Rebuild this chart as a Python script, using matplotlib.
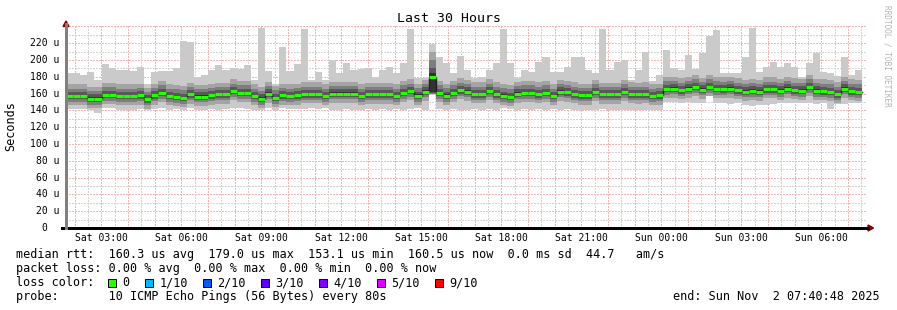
import matplotlib
matplotlib.use('Agg')
import matplotlib.pyplot as plt
import matplotlib.dates as mdates
from matplotlib.lines import Line2D
from matplotlib.patches import Rectangle, Polygon
from datetime import datetime, timedelta
import pandas as pd

W, H = 897, 310
plt.rcParams['font.family'] = ['DejaVu Sans Mono']

# time span of the graph (30 hours, 16 minute consolidated bars)
start = datetime(2025, 11, 1, 1, 40, 48)
end = datetime(2025, 11, 2, 7, 40, 48)
bar_minutes = 16

# median rtt per bar (us)
median = [157, 157, 157, 154, 154, 158.5, 158.5, 157, 157, 157,
          158, 153, 158, 161, 157, 156, 155, 159, 156.5, 156.5,
          158, 159, 159, 163, 161, 161, 157, 154, 160, 155,
          158, 157, 158,
          159.3, 159.3, 159.3, 157, 160, 160, 160, 160, 157, 159,
          159, 159, 159, 157, 161, 163, 157.5, 162.5, 179.5, 161,
          157.5, 161, 164, 162.5, 159.3, 159.3, 163, 159.3, 157.5, 156,
          160, 161, 161, 159.3, 161, 157, 162.5, 161.5, 159.3,
          158, 158, 162, 159, 159, 159, 162, 159.3, 159, 159.3,
          157, 158, 165.7, 166, 164, 166, 168, 164.8, 168, 165.7,
          165.3, 166, 164, 162.4, 163.5, 162.4, 165.3, 165.3, 163.5, 166,
          164, 163.5, 168, 163.5, 162.8, 162, 159.3, 166, 162.8, 162]

# slowest ping per bar (top of the light smoke)
ping_max = [184.7, 184, 182, 186, 176, 195, 190, 188, 188, 187,
            192, 171, 186, 187, 187, 190.6, 222.7, 221, 180, 182,
            188, 194, 188, 190, 189, 194, 176, 238, 187, 172,
            215.6, 187, 195,
            237, 176, 186, 176, 200, 184, 196, 188, 189, 190,
            180, 188, 192, 184, 197, 237, 178, 178, 219, 203,
            197, 184, 204.5, 188, 178, 180, 188, 197, 237, 196,
            178, 188, 186, 198, 204, 186, 186, 192, 204,
            204, 188, 185, 237, 188, 198, 200, 176, 188, 210,
            175, 182, 212, 190, 188, 206, 189, 208, 229, 236,
            184, 184, 185, 204, 238, 186, 192, 198, 192, 196.5,
            192, 180, 196, 208, 186, 184, 181, 204, 182, 188]

# fastest ping per bar (bottom of the light smoke)
ping_min = [142, 142, 142, 141, 137, 143, 143, 141, 141, 141,
            142, 141, 142, 143, 141, 142, 141, 143, 141, 141,
            142, 141, 142, 143, 143, 142, 141, 140, 143, 141,
            143, 142, 142,
            142, 143, 142, 143, 140, 141, 142, 141, 141, 142,
            141, 142, 141, 142, 141, 142, 143, 141, 158, 142,
            141, 142, 141, 141, 142, 141, 142, 141, 143, 142,
            141, 142, 141, 142, 141, 142, 141, 142, 141,
            141, 141, 141, 142, 141, 141, 140, 140, 141, 141,
            141, 141, 150, 150, 149, 150, 149, 149, 157, 149,
            149, 148, 149, 146, 145, 146, 147, 148, 149, 149,
            149, 149, 149, 148, 149, 142, 148, 148, 149, 149]

# typical inner ping offsets from the median (p5..p2 below, p6..p9 above)
below_median = [1.5, 4, 7, 11]
above_median = [1.5, 5, 9, 14]
# the spike bar at Sat 15:00 has its own sorted pings
spike_bar = 51
spike_pings = [158, 159, 160, 161, 162, 184, 190, 200, 209, 219]

x_labels_fmt = '%a %H:%M'
loss_labels = ['0', '1/10', '2/10', '3/10', '4/10', '5/10', '9/10']
loss_colors = ['#26ff00', '#00b8ff', '#0059ff', '#5e00ff', '#7e00ff', '#dd00ff', '#ff0000']


def px(x, y):
    #pixel position -> figure fraction
    return x / W, 1 - y / H


def sorted_pings(k):
    if k == spike_bar:
        return spike_pings
    m, lo, hi = median[k], ping_min[k], ping_max[k]
    inner = [m - d for d in below_median[::-1]] + [m + d for d in above_median]
    inner = [min(max(v, lo), hi) for v in inner]
    return sorted([lo] + inner + [hi])


fig = plt.figure(figsize=(W / 100, H / 100), dpi=100)
fig.patch.set_facecolor('white')
ax_left, ax_right, ax_bottom, ax_top = 66, 866, 228, 26.4
ax = fig.add_axes([ax_left / W, 1 - ax_bottom / H, (ax_right - ax_left) / W, (ax_bottom - ax_top) / H])
ax.set_facecolor('white')
ax.set_xlim(start, end)
ax.set_ylim(0, 240)
for s in ax.spines.values():
    s.set_visible(False)

times = [start + timedelta(minutes=bar_minutes * k) for k in range(len(median))]
width = timedelta(minutes=bar_minutes)
pings = [sorted_pings(k) for k in range(len(median))]

#Grid (drawn under the smoke, like rrdtool)
grid_style = dict(linestyle=(0, (1, 1)), lw=0.75, antialiased=False, zorder=0.5)
for v in range(10, 241, 10):
    if v % 20:
        ax.axhline(v, color='#d4d4d4', **grid_style)
    else:
        ax.axhline(v, color='#f6b4b4', **grid_style)
for t in pd.date_range('2025-11-01 02:30', '2025-11-02 07:30', freq='h'):
    ax.axvline(t, color='#d4d4d4', **grid_style)
for t in pd.date_range('2025-11-01 02:00', '2025-11-02 07:00', freq='h'):
    ax.axvline(t, color='#f6b4b4', **grid_style)

#Smoke: smokeping style stacked grey bands
half = 5
for j in range(half):
    level = int(190 / half * (half - (j + 1))) + 50
    col = '#' + ('%02x' % level) * 3
    bottoms = [p[j] for p in pings]
    heights = [p[9 - j] - p[j] for p in pings]
    ax.bar(times, heights, bottom=bottoms, width=width, align='edge',
           color=col, linewidth=0, antialiased=False, zorder=1)

#Median line: dark step line then green segments
ax.step(times + [times[-1] + width], median + [median[-1]], where='post',
        color='#202020', lw=1, zorder=2)
ax.hlines(median, times, [t + width for t in times], colors=loss_colors[0],
          linewidth=2.2, zorder=3)

#X axis labels
ax.xaxis.set_major_locator(mdates.HourLocator(byhour=range(0, 24, 3)))
ax.xaxis.set_major_formatter(mdates.DateFormatter(x_labels_fmt))
ax.tick_params(axis='x', length=0, pad=3.5, labelsize=7)
ax.set_yticks([])

#Y axis labels
ytr = ax.get_yaxis_transform()
for v in range(0, 221, 20):
    if v == 0:
        ax.text(-0.0235, v, '0', transform=ytr, ha='right', va='center', fontsize=7)
    else:
        ax.text(-0.0085, v, f'{v} u', transform=ytr, ha='right', va='center', fontsize=7)

#Axis lines and arrows
fig.add_artist(Line2D(*zip(px(62, 228), px(868, 228)), color='black', lw=0.75, antialiased=False))
fig.add_artist(Line2D(*zip(px(66, 228), px(66, 24)), color='#808080', lw=0.75, antialiased=False))
fig.add_artist(Polygon([px(63, 26.5), px(69, 26.5), px(66, 21)], closed=True,
                       color='#800000', transform=fig.transFigure))
fig.add_artist(Polygon([px(868, 225), px(868, 231), px(873.5, 228)], closed=True,
                       color='#800000', transform=fig.transFigure))

#Titles
fig.text(*px(449, 19), 'Last 30 Hours', ha='center', va='center', fontsize=9.5)
fig.text(*px(11, 126), 'Seconds', ha='center', va='center', rotation=90, fontsize=8.5)
fig.text(*px(887, 5), 'RRDTOOL / TOBI OETIKER', ha='center', va='top', rotation=270,
         fontsize=5.6, color='#b4b4b4')

#Legend
cw = 7.1
x0 = 16
fs = 8.5
fig.text(*px(x0, 258), 'median rtt:  160.3 us avg  179.0 us max  153.1 us min  '
         '160.5 us now  0.0 ms sd  44.7   am/s', fontsize=fs, va='baseline')
fig.text(*px(x0, 272), 'packet loss: 0.00 % avg  0.00 % max  0.00 % min  0.00 % now',
         fontsize=fs, va='baseline')
fig.text(*px(x0, 286), 'loss color:', fontsize=fs, va='baseline')
lx = x0 + 15 * cw
for lab, col in zip(loss_labels, loss_colors):
    bx, by = px(lx - 2 * cw, 286.5)
    fig.add_artist(Rectangle((bx, by), 8 / W, 8 / H, facecolor=col, edgecolor='black',
                             lw=0.7, transform=fig.transFigure))
    fig.text(*px(lx, 286), lab, fontsize=fs, va='baseline')
    lx += (len(lab) + 4.17) * cw
fig.text(*px(x0, 300), 'probe:       10 ICMP Echo Pings (56 Bytes) every 80s',
         fontsize=fs, va='baseline')
fig.text(*px(880, 300), 'end: Sun Nov  2 07:40:48 2025', fontsize=fs, va='baseline', ha='right')

fig.savefig('out.png', dpi=100)
